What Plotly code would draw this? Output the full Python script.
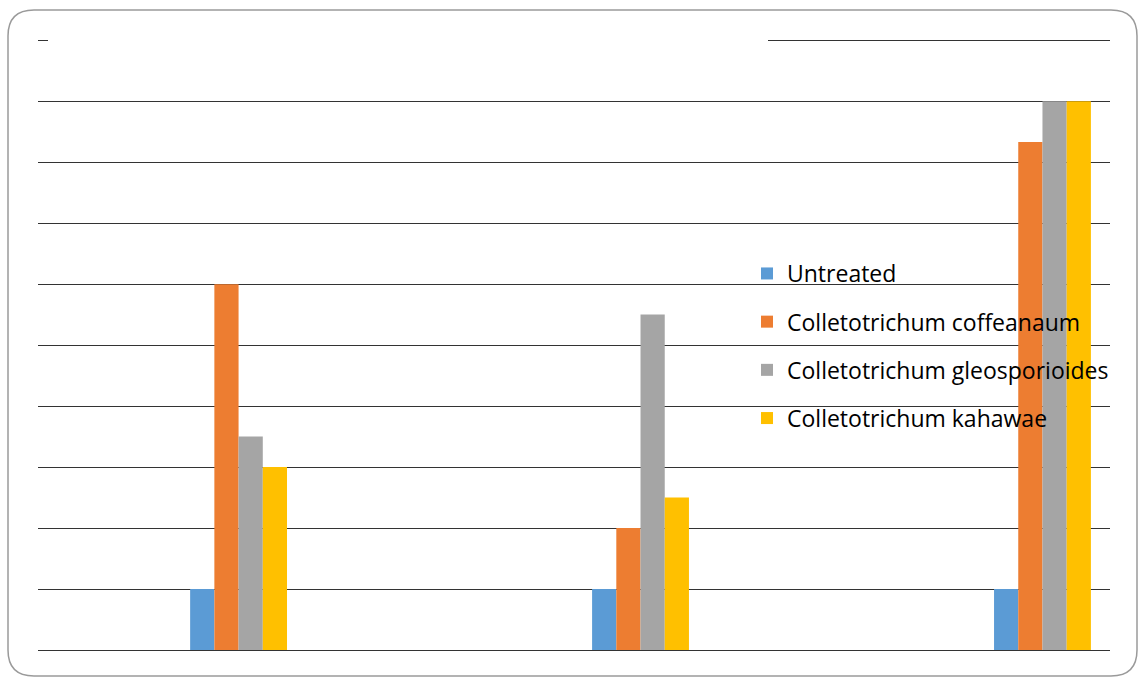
import plotly.graph_objects as go

categories = ["Group 1", "Group 2", "Group 3"]
series_names = ["Untreated", "Colletotrichum coffeanaum",
                "Colletotrichum gleosporioides", "Colletotrichum kahawae"]
untreated = [1, 1, 1]
coffeanaum = [6, 2, 8.33]
gleosporioides = [3.5, 5.5, 9]
kahawae = [3, 2.5, 9]
colors = ["#5B9BD5", "#ED7D31", "#A5A5A5", "#FFC000"]

W, H = 1139, 677
L, R, T, B = 38, 29, 39, 27
pw, ph = W - L - R, H - T - B

def px(x):
    return (x - L) / pw

def py(y):
    return (H - B - y) / ph

fig = go.Figure()
for i, (name, vals) in enumerate(zip(series_names, [untreated, coffeanaum, gleosporioides, kahawae])):
    fig.add_trace(go.Bar(x=categories, y=vals, name=name, marker_color=colors[i],
                         marker_line_width=0, legendgroup=f"g{i}"))

# rounded border
x0, x1, y0, y1, r = 8, 1137, 10, 676, 26
rx, ry = r / pw, r / ph
X0, X1, Y0, Y1 = px(x0), px(x1), py(y0), py(y1)
path = (f"M {X0+rx},{Y0} L {X1-rx},{Y0} Q {X1},{Y0} {X1},{Y0-ry} "
        f"L {X1},{Y1+ry} Q {X1},{Y1} {X1-rx},{Y1} L {X0+rx},{Y1} "
        f"Q {X0},{Y1} {X0},{Y1+ry} L {X0},{Y0-ry} Q {X0},{Y0} {X0+rx},{Y0} Z")

shapes = [
    dict(type="path", xref="paper", yref="paper", path=path,
         line=dict(color="#9a9a9a", width=1.5), fillcolor="rgba(0,0,0,0)", layer="above"),
    dict(type="rect", xref="paper", yref="paper", x0=px(48), x1=px(768),
         y0=py(46), y1=py(34), fillcolor="white", line_width=0, layer="above"),
]

fig.update_layout(
    width=W, height=H,
    margin=dict(l=L, r=R, t=T, b=B),
    paper_bgcolor="white", plot_bgcolor="white",
    barmode="group", bargap=0.759, bargroupgap=0,
    font=dict(family="Open Sans, Lato, sans-serif", size=23, color="#000"),
    xaxis=dict(type="category", range=[-0.499, 2.168], showticklabels=False,
               showgrid=False, zeroline=False, showline=False, ticks=""),
    yaxis=dict(range=[0, 10.02], dtick=1, showticklabels=False, showgrid=True,
               gridcolor="#333333", gridwidth=1.2, zeroline=True,
               zerolinecolor="#333333", zerolinewidth=1.2, showline=False, ticks=""),
    legend=dict(x=px(747), y=py(252), xanchor="left", yanchor="top",
                bgcolor="rgba(0,0,0,0)", tracegroupgap=15.3,
                font=dict(size=23), itemwidth=30),
    shapes=shapes,
    showlegend=True,
)

fig.write_html("out.html")
